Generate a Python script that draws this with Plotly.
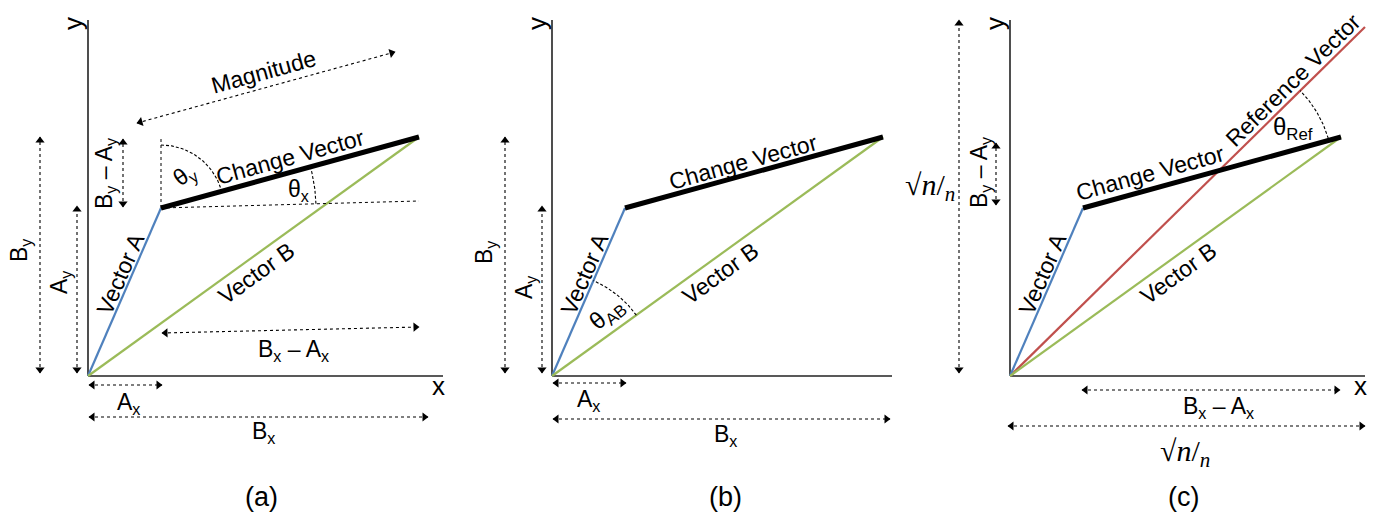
import math
import numpy as np
import plotly.graph_objects as go

# ---------------- data (vector components, diagram units) ----------------
VEC_A = [0.73, 1.68]
VEC_B = [3.31, 2.39]
VEC_REF = [3.55, 3.49]
AXIS_X_LEN = [3.55, 3.40, 3.55]
AXIS_Y_LEN = [3.56, 3.56, 3.56]
PANEL_TAGS = ["(a)", "(b)", "(c)"]
COL_A = "#4F81BD"
COL_B = "#9BBB59"
COL_REF = "#C0504D"

# ---------------- layout geometry ----------------
W, H = 1373, 514
PX = 100.0
ORIGINS_PX = [88, 552, 1010]
ORIGIN_Y_PX = 376
PANEL_EDGES = [0, 460, 920, 1373]
FONT = "Liberation Sans, Arial, sans-serif"
SERIF = "Liberation Serif, DejaVu Serif, serif"
FS = 23

fig = go.Figure()


def axn(n):
    return ("x" if n == 1 else f"x{n}"), ("y" if n == 1 else f"y{n}")


def seg(p, q, n, color="black", width=1.0, dash=None):
    xa, ya = axn(n)
    fig.add_trace(go.Scatter(x=[p[0], q[0]], y=[p[1], q[1]], mode="lines",
                             line=dict(color=color, width=width, dash=dash),
                             xaxis=xa, yaxis=ya, hoverinfo="skip", showlegend=False))


def heads(pts, n):
    xa, ya = axn(n)
    xs, ys, angs = [], [], []
    for tip, other in pts:
        dx, dy = tip[0] - other[0], tip[1] - other[1]
        L = math.hypot(dx, dy)
        back = 0.035
        xs.append(tip[0] - dx / L * back)
        ys.append(tip[1] - dy / L * back)
        angs.append(math.degrees(math.atan2(dx, dy)))
    fig.add_trace(go.Scatter(x=xs, y=ys, mode="markers",
                             marker=dict(symbol="triangle-up", size=8, angle=angs,
                                         color="black", line=dict(width=0)),
                             xaxis=xa, yaxis=ya, hoverinfo="skip", showlegend=False))


def dim(p, q, n):
    seg(p, q, n, dash="3px,3px", width=1.1)
    heads([(q, p), (p, q)], n)


def arc(c, r, a0, a1, n):
    t = np.radians(np.linspace(a0, a1, 50))
    xa, ya = axn(n)
    fig.add_trace(go.Scatter(x=c[0] + r * np.cos(t), y=c[1] + r * np.sin(t), mode="lines",
                             line=dict(color="black", width=1.1, dash="3px,2px"),
                             xaxis=xa, yaxis=ya, hoverinfo="skip", showlegend=False))


annos = []


def label(text, x, y, n, angle=0, size=FS, family=FONT):
    xa, ya = axn(n)
    annos.append(dict(text=text, x=x, y=y, xref=xa, yref=ya, showarrow=False,
                      textangle=angle, xanchor="center", yanchor="middle",
                      font=dict(family=family, size=size, color="black")))


def ang(v):
    return math.degrees(math.atan2(v[1], v[0]))


A = np.array(VEC_A)
B = np.array(VEC_B)
R = np.array(VEC_REF)
C = B - A
O = np.array([0.0, 0.0])
angA, angB, angC, angR = ang(A), ang(B), ang(C), ang(R)

for i in range(3):
    n = i + 1
    # axes
    seg(O, (0, AXIS_Y_LEN[i]), n, color="#222222", width=1.6)
    seg(O, (AXIS_X_LEN[i], 0), n, color="#222222", width=1.6)
    label("y", -0.15, AXIS_Y_LEN[i] - 0.04, n, angle=-90, size=26)
    if i != 1:
        label("x", AXIS_X_LEN[i] - 0.05, -0.10, n, size=26)
    # vectors
    if i == 2:
        seg(O, R, n, color=COL_REF, width=2.2)
    seg(O, A, n, color=COL_A, width=2.2)
    seg(O, B, n, color=COL_B, width=2.2)
    seg(A, B, n, color="black", width=5)
    label("Vector A", A[0] * 0.44, A[1] * 0.61, n, angle=-angA)
    label("Vector B", B[0] * 0.51, B[1] * 0.43, n, angle=-angB)
    label(PANEL_TAGS[i], 1.73, -1.21, n, size=27)

# ---------- panel (a) ----------
n = 1
dim((-0.48, 0.03), (-0.48, B[1]), n)
label("B<sub>y</sub>", -0.68, 1.26, n, angle=-90)
dim((-0.11, 0.03), (-0.11, A[1] + 0.02), n)
label("A<sub>y</sub>", -0.28, 0.94, n, angle=-90)
dim((0.35, A[1] + 0.01), (0.35, B[1] - 0.02), n)
label("B<sub>y</sub> – A<sub>y</sub>", 0.17, 2.03, n, angle=-90)
off = np.array([-0.24, 0.85])
dim(A + off, B + off, n)
label("Magnitude", 1.75, 3.04, n, angle=-angC)
seg(A, (A[0], B[1]), n, dash="3px,3px", width=1)
hz_end = (B[0], 1.75)
seg(A, hz_end, n, dash="3px,3px", width=1)
arc(A, 0.63, 90, angC, n)
arc(A, 1.55, ang((hz_end[0] - A[0], hz_end[1] - A[1])), angC, n)
label("θ<sub>y</sub>", 0.97, 2.01, n, angle=-35)
label("θ<sub>x</sub>", 2.10, 1.86, n)
label("Change Vector", 2.02, 2.19, n, angle=-angC)
dim((A[0] + 0.01, 0.43), (B[0], 0.49), n)
label("B<sub>x</sub> – A<sub>x</sub>", 2.05, 0.26, n)
dim((0.01, -0.09), (A[0] + 0.01, -0.09), n)
label("A<sub>x</sub>", 0.40, -0.27, n)
dim((0.01, -0.41), (3.40, -0.41), n)
label("B<sub>x</sub>", 1.75, -0.56, n)

# ---------- panel (b) ----------
n = 2
dim((-0.47, 0.03), (-0.47, B[1]), n)
label("B<sub>y</sub>", -0.67, 1.24, n, angle=-90)
dim((-0.10, 0.03), (-0.10, A[1] + 0.02), n)
label("A<sub>y</sub>", -0.27, 0.89, n, angle=-90)
arc(O, 1.04, angB, angA, n)
label("θ<sub>AB</sub>", 0.55, 0.62, n, angle=-40, size=24)
label("Change Vector", 1.91, 2.14, n, angle=-angC)
dim((0.01, -0.07), (A[0] + 0.01, -0.07), n)
label("A<sub>x</sub>", 0.36, -0.24, n)
dim((0.01, -0.43), (3.38, -0.43), n)
label("B<sub>x</sub>", 1.73, -0.59, n)

# ---------- panel (c) ----------
n = 3
SQ = "√<i>n</i>/<sub><i>n</i></sub>"
dim((-0.51, 0.03), (-0.51, AXIS_Y_LEN[2]), n)
label(SQ, -0.80, 1.89, n, size=30, family=SERIF)
dim((-0.14, A[1] + 0.03), (-0.14, 2.33), n)
label("B<sub>y</sub> – A<sub>y</sub>", -0.30, 2.04, n, angle=-90)
label("Reference Vector", 2.83, 2.96, n, angle=-angR)
# intersection of reference and change vectors
M = np.array([[R[0], -C[0]], [R[1], -C[1]]])
t, s = np.linalg.solve(M, A)
P = R * t
arc(P, 1.14, angC + 1, angR, n)
label("θ<sub>Ref</sub>", 2.83, 2.48, n, size=24)
label("Change Vector", 1.40, 2.03, n, angle=-angC)
dim((A[0] - 0.01, -0.14), (B[0] - 0.01, -0.14), n)
label("B<sub>x</sub> – A<sub>x</sub>", 2.08, -0.31, n)
dim((-0.02, -0.50), (AXIS_X_LEN[2], -0.50), n)
label(SQ, 1.75, -0.77, n, size=30, family=SERIF)

# ---------- axes / layout ----------
layout = dict(width=W, height=H, margin=dict(l=0, r=0, t=0, b=0),
              paper_bgcolor="white", plot_bgcolor="white", annotations=annos,
              showlegend=False)
for i in range(3):
    n = i + 1
    key_x = "xaxis" if n == 1 else f"xaxis{n}"
    key_y = "yaxis" if n == 1 else f"yaxis{n}"
    x0 = (PANEL_EDGES[i] - ORIGINS_PX[i]) / PX
    x1 = (PANEL_EDGES[i + 1] - ORIGINS_PX[i]) / PX
    layout[key_x] = dict(domain=[PANEL_EDGES[i] / W, PANEL_EDGES[i + 1] / W],
                         range=[x0, x1], visible=False, fixedrange=True)
    layout[key_y] = dict(domain=[0, 1], range=[-(H - ORIGIN_Y_PX) / PX, ORIGIN_Y_PX / PX],
                         visible=False, fixedrange=True, anchor=("x" if n == 1 else f"x{n}"))
    if n > 1:
        layout[key_x]["anchor"] = f"y{n}"
fig.update_layout(**layout)
fig.write_html("out.html", config={"displayModeBar": False},
               post_script="document.body.style.margin='0';document.body.style.overflow='hidden';")
